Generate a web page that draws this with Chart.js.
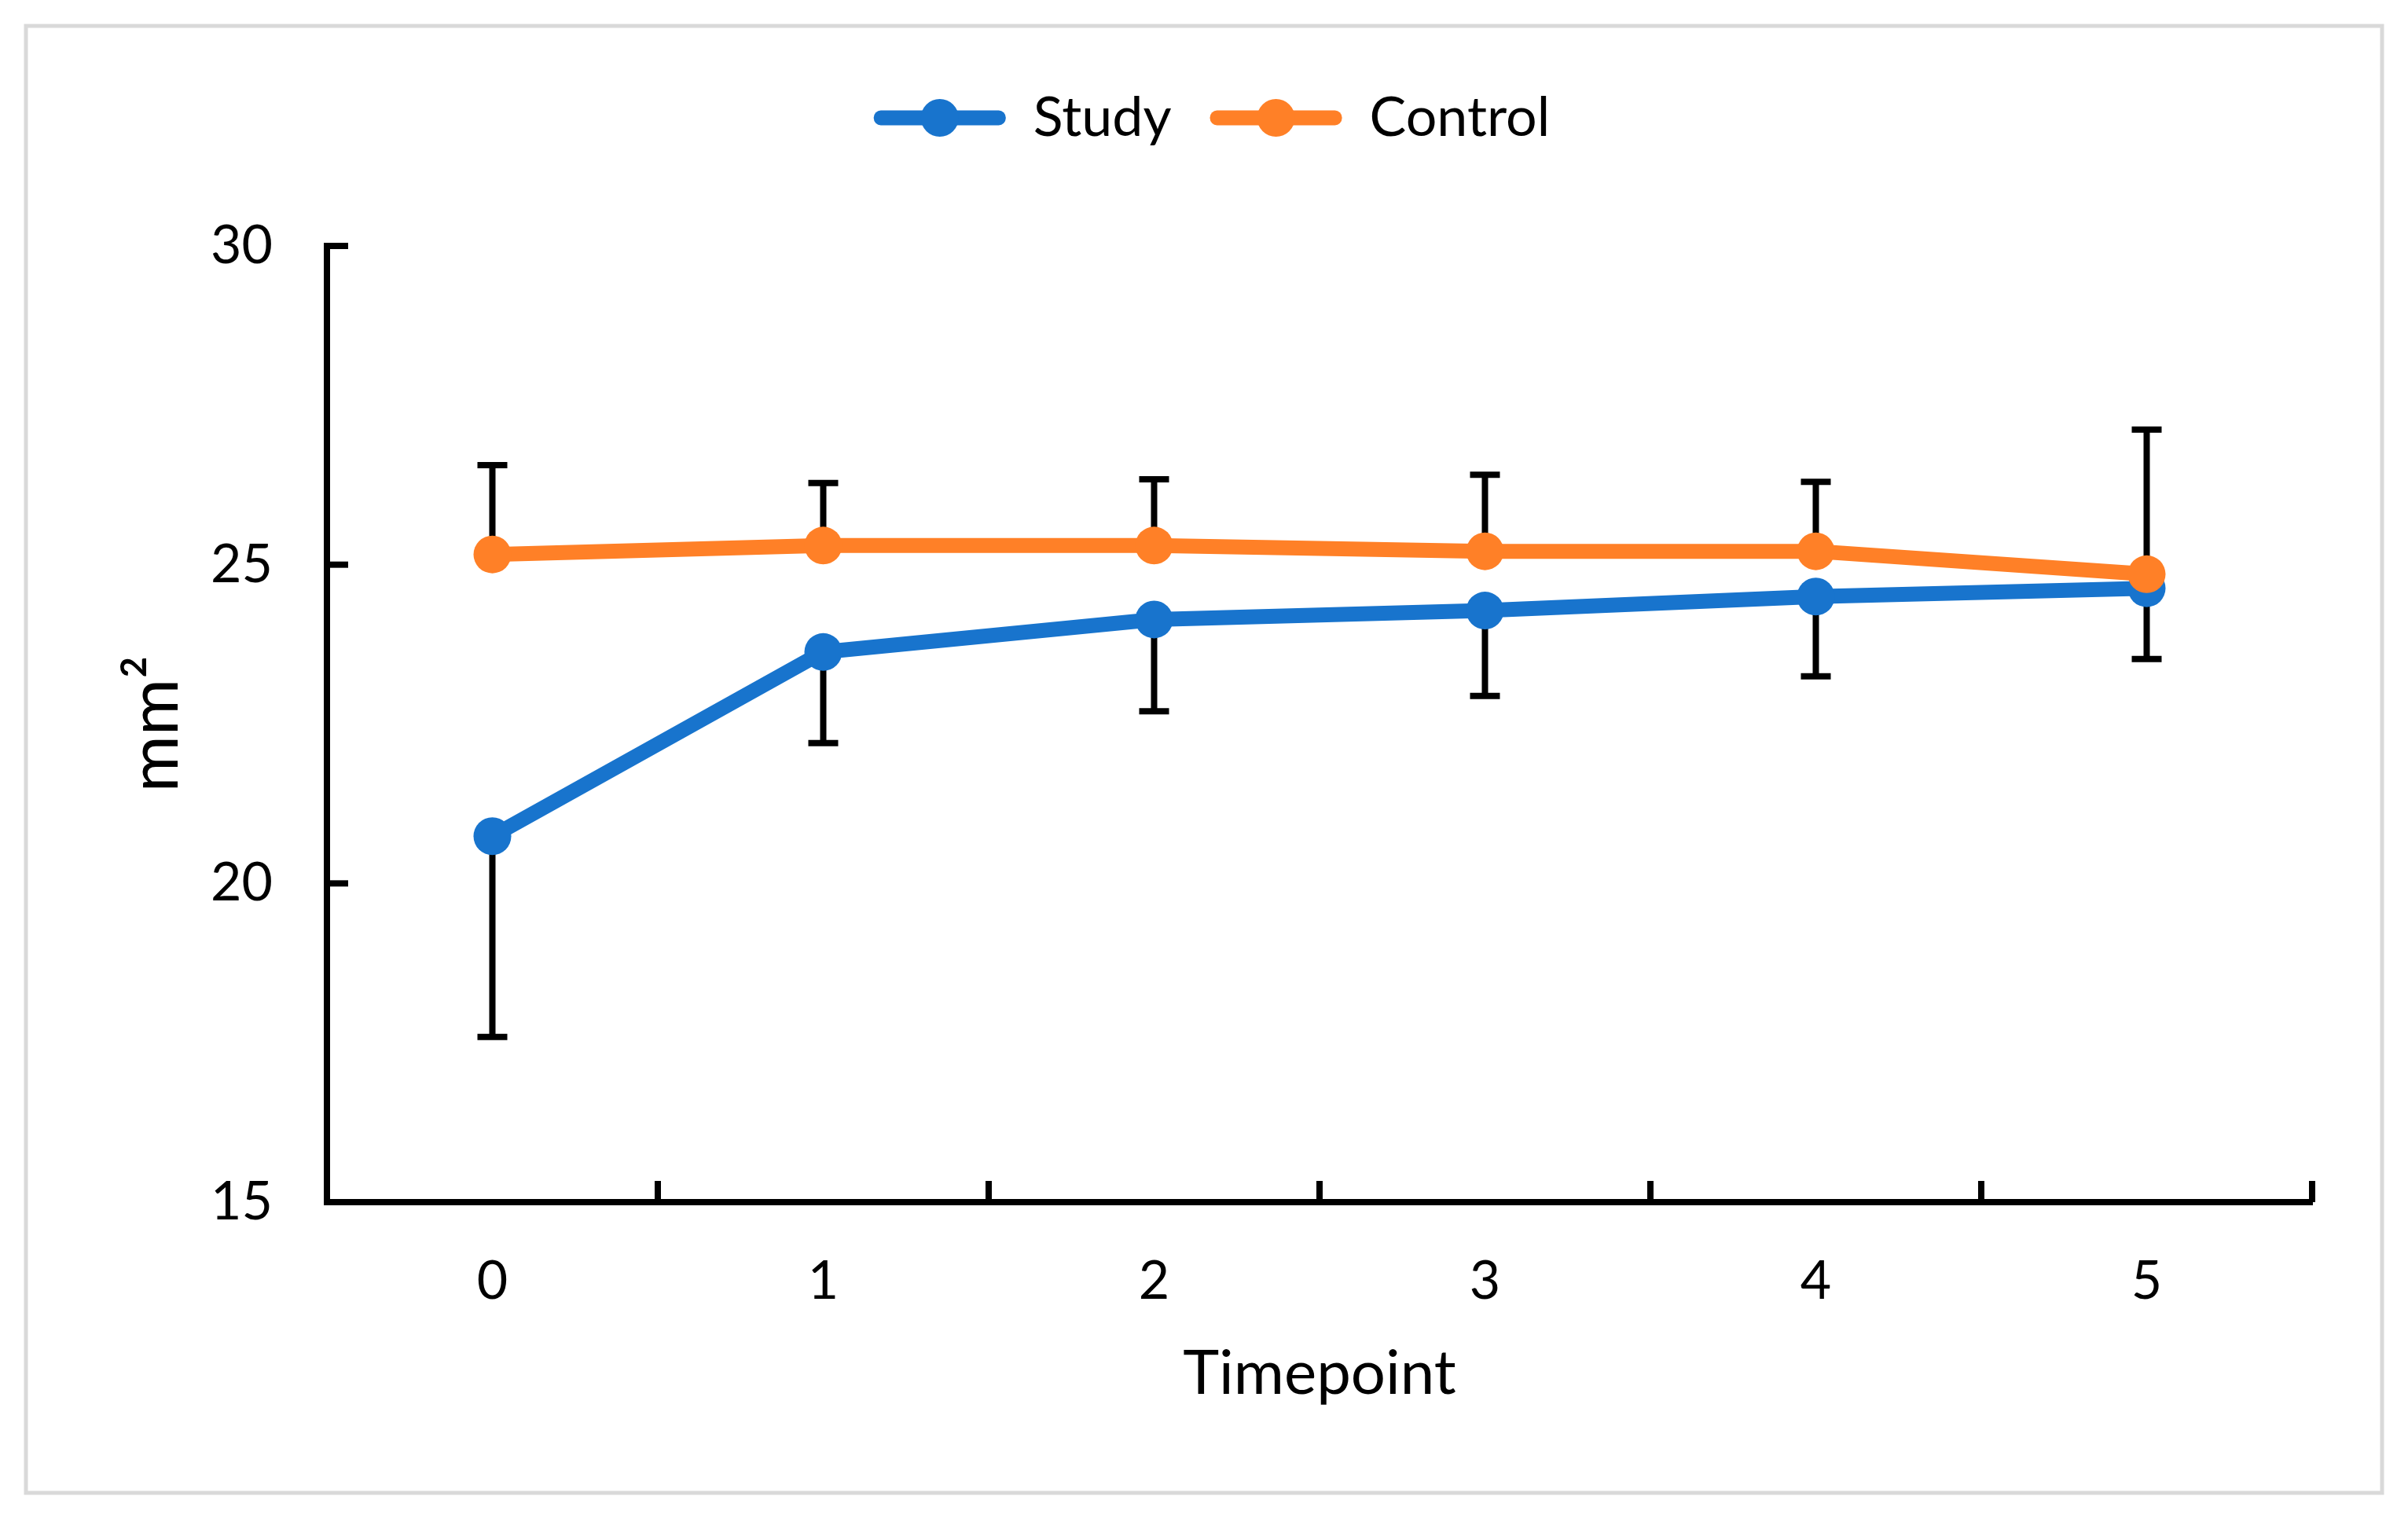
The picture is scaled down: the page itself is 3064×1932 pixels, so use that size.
<!DOCTYPE html>
<html lang="en">
<head>
  <meta charset="UTF-8" />
  <title>Study vs Control</title>
  <script src="https://cdn.jsdelivr.net/npm/chart.js@4"></script>
  <style>
    body { margin: 0; background: #fff; }
    canvas { display: block; }
  </style>
</head>
<body>
<canvas id="chart" width="3064" height="1932"></canvas>
<script>
// data
const timepoints = ['0', '1', '2', '3', '4', '5'];
const studyMean = [20.74, 23.63, 24.14, 24.28, 24.50, 24.63];
const studyErrMinus = [3.15, 1.43, 1.44, 1.34, 1.25, 1.11];
const controlMean = [25.16, 25.30, 25.30, 25.21, 25.21, 24.85];
const controlErrPlus = [1.40, 0.98, 1.04, 1.20, 1.09, 2.27];
const yTicks = [15, 20, 25, 30];

const BLUE = '#1874CD';
const ORANGE = '#FF8027';
const FONT = 'Lato';

// light grey frame round the whole figure
const frame = {
  id: 'frame',
  beforeDraw(chart) {
    const c = chart.ctx;
    c.save();
    c.fillStyle = '#fff';
    c.fillRect(0, 0, chart.width, chart.height);
    c.strokeStyle = '#d9d9d9';
    c.lineWidth = 5;
    c.strokeRect(33, 33, 2998, 1867);
    c.restore();
  }
};

// one-sided error bars, drawn under the lines
const errorBars = {
  id: 'errorBars',
  beforeDatasetsDraw(chart) {
    const { ctx, scales: { y } } = chart;
    ctx.save();
    ctx.strokeStyle = '#000';
    ctx.lineWidth = 8;
    chart.data.datasets.forEach((ds, i) => {
      const meta = chart.getDatasetMeta(i);
      meta.data.forEach((pt, j) => {
        const y0 = y.getPixelForValue(ds.data[j]);
        const y1 = y.getPixelForValue(ds.data[j] + ds.errDir * ds.err[j]);
        ctx.beginPath();
        ctx.moveTo(pt.x, y0);
        ctx.lineTo(pt.x, y1);
        ctx.moveTo(pt.x - 19, y1);
        ctx.lineTo(pt.x + 19, y1);
        ctx.stroke();
      });
    });
    ctx.restore();
  }
};

// tick marks pointing into the plot, like the original
const innerTicks = {
  id: 'innerTicks',
  afterDatasetsDraw(chart) {
    const { ctx, chartArea: a, scales: { x, y } } = chart;
    ctx.save();
    ctx.strokeStyle = '#000';
    ctx.lineWidth = 8;
    y.ticks.forEach(t => {
      const py = y.getPixelForValue(t.value);
      ctx.beginPath();
      ctx.moveTo(a.left, py);
      ctx.lineTo(a.left + 27, py);
      ctx.stroke();
    });
    for (let i = 0; i <= timepoints.length; i++) {
      const px = x.getPixelForValue(i - 0.5);
      ctx.beginPath();
      ctx.moveTo(px, a.bottom);
      ctx.lineTo(px, a.bottom - 27);
      ctx.stroke();
    }
    ctx.restore();
  }
};

// put a marker dot on each legend line
const legendDots = {
  id: 'legendDots',
  afterDraw(chart) {
    const lg = chart.legend;
    const ctx = chart.ctx;
    const bw = lg.options.labels.boxWidth;
    ctx.save();
    lg.legendHitBoxes.forEach((hb, i) => {
      ctx.fillStyle = chart.data.datasets[i].borderColor;
      ctx.beginPath();
      ctx.arc(hb.left + bw / 2, hb.top + hb.height / 2, 24, 0, Math.PI * 2);
      ctx.fill();
    });
    ctx.restore();
  }
};

new Chart(document.getElementById('chart'), {
  type: 'line',
  data: {
    labels: timepoints,
    datasets: [
      {
        label: 'Study',
        data: studyMean,
        err: studyErrMinus,
        errDir: -1,
        borderColor: BLUE,
        backgroundColor: BLUE,
        pointBackgroundColor: BLUE,
        borderWidth: 19,
        pointRadius: 24,
        pointHoverRadius: 24,
        pointBorderWidth: 0,
        tension: 0,
        order: 2
      },
      {
        label: 'Control',
        data: controlMean,
        err: controlErrPlus,
        errDir: 1,
        borderColor: ORANGE,
        backgroundColor: ORANGE,
        pointBackgroundColor: ORANGE,
        borderWidth: 19,
        pointRadius: 24,
        pointHoverRadius: 24,
        pointBorderWidth: 0,
        tension: 0,
        order: 1
      }
    ]
  },
  options: {
    responsive: false,
    animation: false,
    devicePixelRatio: 1,
    layout: { padding: { top: 66, left: 142, right: 122, bottom: 0 } },
    plugins: {
      tooltip: { enabled: false },
      legend: {
        position: 'top',
        labels: {
          boxWidth: 168,
          boxHeight: 19,
          padding: 49,
          color: '#000',
          useBorderRadius: true,
          font: { family: FONT, size: 70 },
          generateLabels: chart => chart.data.datasets.map((ds, i) => ({
            text: ds.label,
            fillStyle: ds.borderColor,
            strokeStyle: ds.borderColor,
            lineWidth: 0,
            borderRadius: 9,
            fontColor: '#000',
            datasetIndex: i
          }))
        }
      },
      // empty title used only as a gap between legend and plot
      title: {
        display: true,
        text: '',
        weight: 500,
        font: { size: 10 },
        padding: { top: 0, bottom: 106 }
      }
    },
    scales: {
      x: {
        offset: true,
        grid: { display: false, drawTicks: false, tickLength: 0 },
        border: { display: true, color: '#000', width: 8 },
        ticks: { color: '#000', padding: 60, font: { family: FONT, size: 68 } },
        title: {
          display: true,
          text: 'Timepoint',
          color: '#000',
          font: { family: FONT, size: 78 },
          padding: { top: 0, bottom: 136 }
        },
        afterFit(scale) { scale.height = 402; }
      },
      y: {
        min: 15,
        max: 30,
        grid: { display: false, drawTicks: false, tickLength: 0 },
        border: { display: true, color: '#000', width: 8 },
        ticks: { color: '#000', padding: 69, font: { family: FONT, size: 68 } },
        afterBuildTicks(scale) { scale.ticks = yTicks.map(v => ({ value: v })); },
        title: {
          display: true,
          text: 'mm²',
          color: '#000',
          font: { family: FONT, size: 88 },
          padding: { top: 3, bottom: 0 }
        },
        afterFit(scale) { scale.width = 274; }
      }
    }
  },
  plugins: [frame, errorBars, innerTicks, legendDots]
});
</script>
</body>
</html>
